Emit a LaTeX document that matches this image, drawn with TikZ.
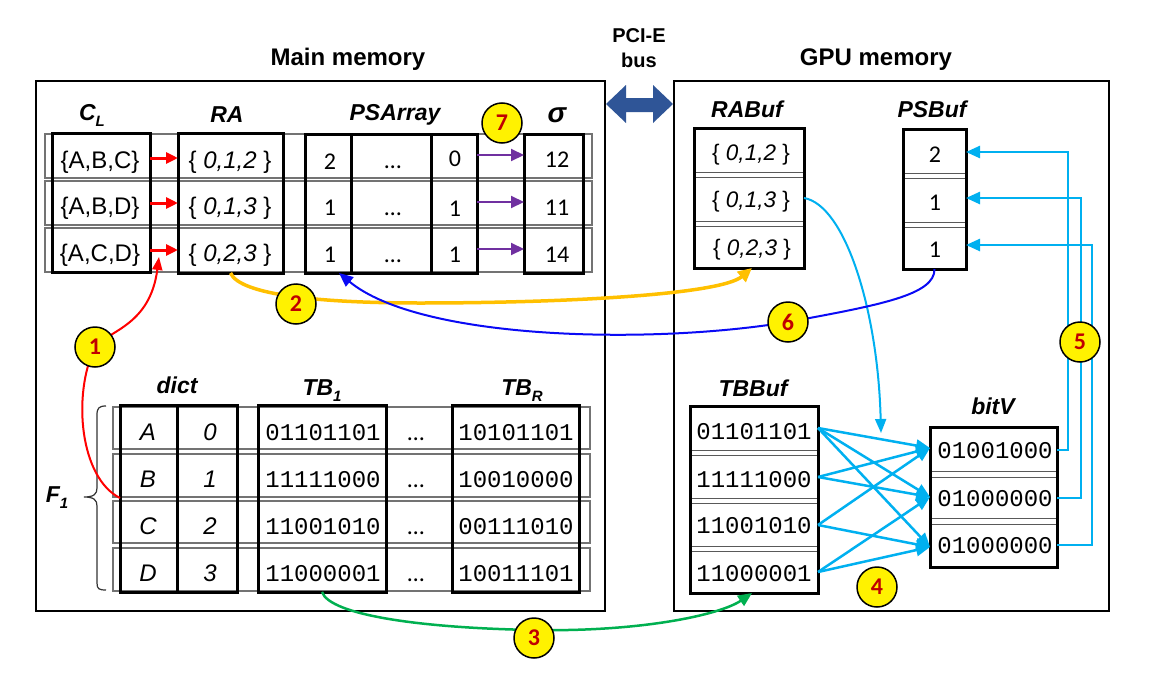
\documentclass[tikz,border=0pt]{standalone}
\usepackage{fontspec}
\setmainfont{Liberation Sans}
\newfontfamily\calib{Carlito}
\newfontfamily\monof{Liberation Mono}
\usetikzlibrary{arrows.meta}
\definecolor{cred}{HTML}{FF0000}
\definecolor{cpurple}{HTML}{7030A0}
\definecolor{corange}{HTML}{FFC000}
\definecolor{cblue}{HTML}{0A0AF5}
\definecolor{cgreen}{HTML}{00B050}
\definecolor{ccyan}{HTML}{00B0F0}
\definecolor{cdark}{HTML}{C00000}
\definecolor{cpci}{HTML}{2F5597}
\newcommand\myfs[1]{\fontsize{#1}{#1}\selectfont}
\newcommand\mysub[1]{\raisebox{-0.3em}{\myfs{15}#1}}
\tikzset{
 mrect/.style 2 args={minimum width=#1pt, minimum height=#2pt, inner sep=0pt, outer sep=0pt, anchor=north west},
 mbig/.style={draw=black, line width=2pt},
 mtbox/.style={draw=black, line width=3pt},
 mstrip/.style={draw=black!55, line width=1.2pt},
 msep/.style={draw=black!65, line width=1pt},
 mhdr/.style={font=\myfs{23}\bfseries\itshape, inner sep=0pt, anchor=base},
 mttl/.style={font=\myfs{24}\bfseries, inner sep=0pt, anchor=base},
 mpci/.style={font=\myfs{20}\bfseries, inner sep=0pt, anchor=base},
 mnum/.style={font=\calib\myfs{24}, inner sep=0pt, anchor=base},
 mset/.style={font=\myfs{24}, inner sep=0pt, anchor=base},
 mita/.style={font=\myfs{24}\itshape, inner sep=0pt, anchor=base},
 mbits/.style={font=\monof\myfs{24}, inner sep=0pt, anchor=base},
 mbadge/.style={circle, draw=black, line width=1.5pt, fill=yellow, minimum size=40pt, inner sep=0pt, font=\calib\myfs{24}\bfseries, text=cdark},
 mredarr/.style={draw=cred, line width=3pt, -{Triangle[length=12pt,width=11pt]}},
 mpurarr/.style={draw=cpurple, line width=2pt, -{Triangle[length=13pt,width=12pt]}},
 mcyarr/.style={draw=ccyan, line width=2.5pt, -{Triangle[length=14pt,width=12pt]}},
}
\begin{document}
\begin{tikzpicture}[x=1pt,y=-1pt]
\useasboundingbox (0,0) rectangle (1158,677);
\fill[white] (0,0) rectangle (1158,677);

% titles
\node[mttl] (tmain) at (348,66) {Main memory};
\node[mttl] (tgpu) at (876,66) {GPU memory};
\node[mpci] (tpci) at (639,42) {PCI-E};
\node[mpci] (tbus) at (639,67) {bus};

% outer boxes
\node[mrect={569}{530}, mbig] (mainbox) at (36,81) {};
\node[mrect={435}{530}, mbig] (gpubox) at (674,81) {};

% PCI-E double arrow
\fill[cpci] (606,104) -- (626,85) -- (626,98) -- (653,98) -- (653,85) -- (673,104) -- (653,123) -- (653,112) -- (626,112) -- (626,123) -- cycle;

% ---------- upper table ----------
\foreach \a/\b in {134/178, 181/225, 228/272} \draw[mstrip] (45,\a) rectangle (592,\b);
\node[mrect={98}{139}, mtbox] (clbox) at (52,133) {};
\node[mrect={105}{140}, mtbox] (rabox) at (178,133) {};
\node[mrect={46}{139}, mtbox] (psa) at (305,134) {};
\node[mrect={80}{139}, mtbox] (psb) at (351,134) {};
\node[mrect={46}{139}, mtbox] (psc) at (431,134) {};
\node[mrect={59}{139}, mtbox] (sigbox) at (524,134) {};

\node[mhdr] (hcl) at (92,120) {C\mysub{L}};
\node[mhdr] (hra) at (227,122) {RA};
\node[mhdr] (hps) at (395,120) {PSArray};
\node[mhdr, font=\myfs{28}\bfseries\itshape] (hsig) at (557,122) {σ};

\node[mset] (cl1) at (100,168) {\{A,B,C\}};
\node[mset] (cl2) at (100,214) {\{A,B,D\}};
\node[mset] (cl3) at (100,261) {\{A,C,D\}};
\node[mset] (ra1) at (230,168) {\{ \textit{0,1,2} \}};
\node[mset] (ra2) at (230,214) {\{ \textit{0,1,3} \}};
\node[mset] (ra3) at (230,261) {\{ \textit{0,2,3} \}};
\node[mnum] (pa1) at (330,169) {2};
\node[mnum] (pa2) at (330,215) {1};
\node[mnum] (pa3) at (330,262) {1};
\node[mnum] (pb1) at (393,168) {…};
\node[mnum] (pb2) at (393,215) {…};
\node[mnum] (pb3) at (393,262) {…};
\node[mnum] (pc1) at (455,166) {0};
\node[mnum] (pc2) at (455,216) {1};
\node[mnum] (pc3) at (455,262) {1};
\node[mnum] (sg1) at (557,167) {12};
\node[mnum] (sg2) at (557,215) {11};
\node[mnum] (sg3) at (557,262) {14};

\coordinate (ry1) at (0,158); \coordinate (ry2) at (0,203); \coordinate (ry3) at (0,250);
\coordinate (py1) at (0,155); \coordinate (py2) at (0,202); \coordinate (py3) at (0,249);
\foreach \i in {1,2,3} {
  \draw[mredarr] (clbox.east |- ry\i) -- (rabox.west |- ry\i);
  \draw[mpurarr] (psc.east |- py\i) -- (sigbox.west |- py\i);
}

% ---------- lower table ----------
\foreach \a/\b in {407/449, 454/497, 501/543, 548/591} \draw[mstrip] (113,\a) rectangle (590,\b);
\node[mrect={57}{187}, mtbox] (dka) at (120,405) {};
\node[mrect={60}{187}, mtbox] (dkb) at (177,405) {};
\node[mrect={128}{187}, mtbox] (tbone) at (258,405) {};
\node[mrect={127}{187}, mtbox] (tbr) at (452,405) {};

\node[mhdr] (hdict) at (177,393) {dict};
\node[mhdr] (htb1) at (322,395) {TB\mysub{1}};
\node[mhdr] (htbr) at (522,395) {TB\mysub{R}};
\node[mhdr] (hf1) at (57,502) {F\mysub{1}};

\draw[line width=1.2pt, black!80] (106,406) .. controls (99,406) and (97,408) .. (97,415) -- (97,488) .. controls (97,494) and (94,497) .. (84,497) .. controls (94,497) and (97,500) .. (97,506) -- (97,583) .. controls (97,589) and (99,590) .. (106,590);

\foreach \n/\y/\l/\d/\p/\q in {1/440/A/0/01101101/10101101, 2/487/B/1/11111000/10010000, 3/534/C/2/11001010/00111010, 4/581/D/3/11000001/10011101} {
  \node[mita] (dl\n) at (148,\y) {\l};
  \node[mita] (dn\n) at (210,\y) {\d};
  \node[mbits] (tb\n) at (323,\y) {\p};
  \node[mnum] (td\n) at (416,\y) {…};
  \node[mbits] (tr\n) at (516,\y) {\q};
}

% ---------- GPU side ----------
\node[mrect={110}{140}, mtbox] (rabuf) at (694,128) {};
\foreach \y in {172,177,221,226} \draw[msep] (695.5,\y) -- (802.5,\y);
\node[mrect={63}{140}, mtbox] (psbuf) at (903,129) {};
\foreach \y in {173,178,222,227} \draw[msep] (904.5,\y) -- (964.5,\y);
\node[mrect={128}{187}, mtbox] (tbbuf) at (690,406) {};
\foreach \y in {450,455,498,503,546,551} \draw[msep] (691.5,\y) -- (816.5,\y);
\node[mrect={127}{140}, mtbox] (bitv) at (930,427) {};
\foreach \y in {471,477,518,524} \draw[msep] (931.5,\y) -- (1055.5,\y);

\node[mhdr] (hrabuf) at (747,117) {RABuf};
\node[mhdr] (hpsbuf) at (932,117) {PSBuf};
\node[mhdr] (htbbuf) at (753,396) {TBBuf};
\node[mhdr] (hbitv) at (993,414) {bitV};

\node[mset, font=\myfs{22.5}] (rb1) at (751,160) {\{ \textit{0,1,2} \}};
\node[mset, font=\myfs{22.5}] (rb2) at (751,207) {\{ \textit{0,1,3} \}};
\node[mset, font=\myfs{22.5}] (rb3) at (752,255) {\{ \textit{0,2,3} \}};
\node[mnum] (pu1) at (935,162) {2};
\node[mnum] (pu2) at (935,210) {1};
\node[mnum] (pu3) at (935,257) {1};
\node[mbits] (tg1) at (754,439) {01101101};
\node[mbits] (tg2) at (754,487) {11111000};
\node[mbits] (tg3) at (754,533) {11001010};
\node[mbits] (tg4) at (754,581) {11000001};
\node[mbits] (bv1) at (995,458) {01001000};
\node[mbits] (bv2) at (995,506) {01000000};
\node[mbits] (bv3) at (995,553) {01000000};

% TBBuf -> bitV
\coordinate (ts1) at (0,428); \coordinate (ts2) at (0,477);
\coordinate (ts3) at (0,525); \coordinate (ts4) at (0,572);
\coordinate (be1) at (0,448); \coordinate (be2) at (0,497); \coordinate (be3) at (0,547);
\foreach \s/\e in {1/1,1/2,1/3,2/1,2/2,3/1,3/3,4/2,4/3}
  \draw[mcyarr] (tbbuf.east |- ts\s) -- (bitv.west |- be\e);

% bitV -> PSBuf
\coordinate (k1) at (1068,152); \coordinate (k2) at (1081,198); \coordinate (k3) at (1092,245);
\coordinate (o1) at (0,450); \coordinate (o2) at (0,498); \coordinate (o3) at (0,545);
\foreach \i in {1,2,3}
  \draw[mcyarr] (bitv.east |- o\i) -| (k\i) -- (psbuf.east |- k\i);

% RABuf -> bitV
\coordinate (rbo) at (0,198);
\coordinate (cend) at (881,433);
\draw[ccyan, line width=2pt, -{Triangle[length=14pt,width=11pt]}] (rabuf.east |- rbo) .. controls (845,205) and (878,310) .. (cend);

% badges positions (needed for paths)
\coordinate (p1) at (95,347);
\coordinate (p2) at (296,304);
\coordinate (p3) at (534,638);
\coordinate (p6) at (788,322);

% red path (1)
\coordinate (rstart) at (120,498);
\coordinate (rend) at (159,257);
\draw[cred, line width=2pt] (rstart) .. controls (80,478) and (72,395) .. (p1);
\draw[cred, line width=2pt, -{Triangle[length=13pt,width=10pt]}] (p1) .. controls (110,330) and (150,325) .. (rend);

% orange path (2)
\coordinate (otip) at ([xshift=3pt]rabuf.south);
\draw[corange, line width=3.5pt, -{Triangle[length=14pt,width=13pt]}] (rabox.south) .. controls (240,295) and (320,303) .. (420,303) .. controls (560,303) and (720,295) .. (otip);

% green path (3)
\coordinate (gtip) at ([xshift=-2pt]tbbuf.south);
\draw[cgreen, line width=2.5pt, -{Triangle[length=14pt,width=12pt]}] (tbone.south) .. controls (330,615) and (420,628) .. (534,630) .. controls (640,632) and (720,615) .. (gtip);

% blue path (6)
\coordinate (btip) at ([xshift=11pt]psa.south);
\draw[cblue, line width=2pt, -{Triangle[length=14pt,width=12pt]}] (psbuf.south) .. controls (935,295) and (880,305) .. (p6) .. controls (650,345) and (420,340) .. (btip);

% badges
\node[mbadge] (b1) at (p1) {1};
\node[mbadge] (b2) at (p2) {2};
\node[mbadge] (b3) at (p3) {3};
\node[mbadge] (b4) at (877,587) {4};
\node[mbadge] (b5) at (1080,342) {5};
\node[mbadge] (b6) at (p6) {6};
\node[mbadge] (b7) at (502,123) {7};
\end{tikzpicture}
\end{document}
